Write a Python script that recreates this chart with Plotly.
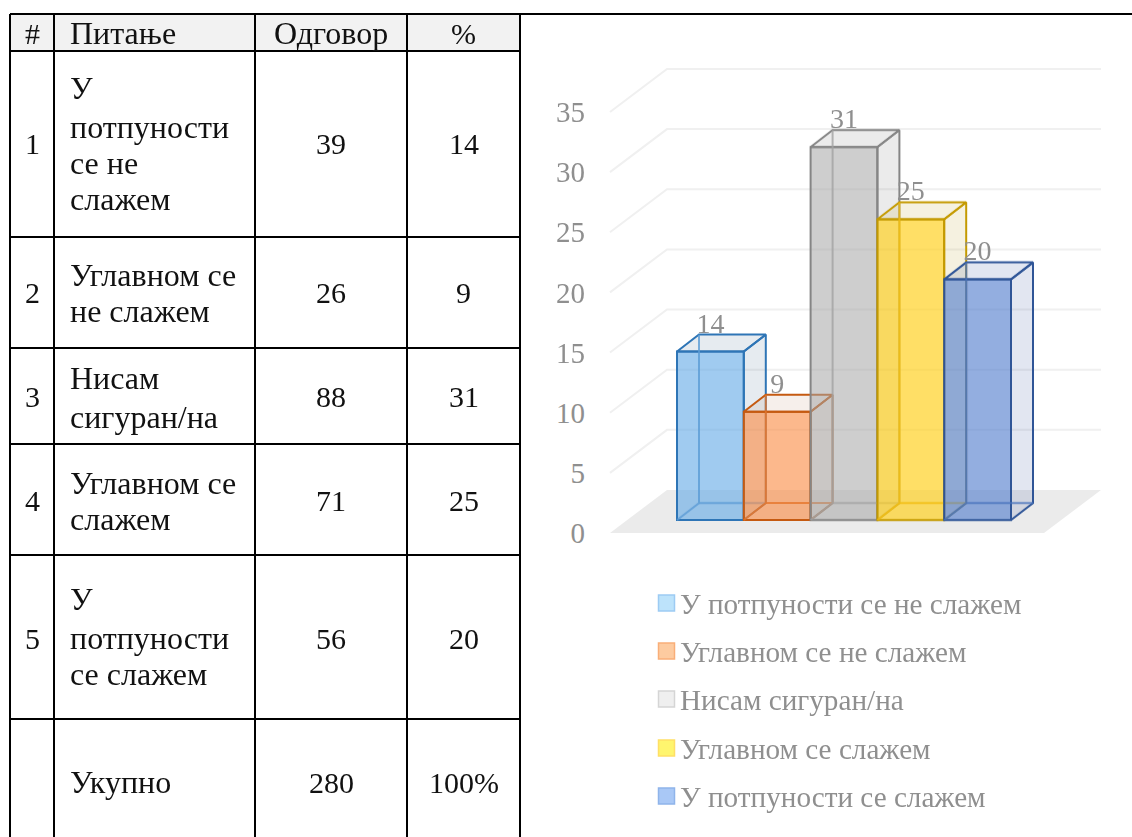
import plotly.graph_objects as go

# ---------- data ----------
series_names = ["У потпуности се не слажем", "Углавном се не слажем",
                "Нисам сигуран/на", "Углавном се слажем", "У потпуности се слажем"]
percent_values = [14, 9, 31, 25, 20]
answer_counts = [39, 26, 88, 71, 56]
row_numbers = ["1", "2", "3", "4", "5", ""]
question_lines = [["У", "потпуности", "се не", "слажем"],
                  ["Углавном се", "не слажем"],
                  ["Нисам", "сигуран/на"],
                  ["Углавном се", "слажем"],
                  ["У", "потпуности", "се слажем"],
                  ["Укупно"]]
answer_labels = [str(v) for v in answer_counts] + ["280"]
percent_labels = [str(v) for v in percent_values] + ["100%"]
header_labels = ["#", "Питање", "Одговор", "%"]
y_ticks = [0, 5, 10, 15, 20, 25, 30, 35]

# ---------- styles ----------
W, H = 1132, 837
SERIF = "Liberation Serif"
TEXT = "#111111"
CHART_TEXT = "#8f8f8f"
CYR_SIZE, NUM_SIZE, LEGEND_SIZE = 32, 30, 29.2
front_fill = ["rgba(97,168,230,0.6)", "rgba(250,140,70,0.62)", "rgba(165,165,165,0.55)",
              "rgba(255,208,30,0.68)", "rgba(80,125,205,0.62)"]
edge_color = ["#2e75b6", "#c55a11", "#858585", "#c49a00", "#2f5597"]
inner_edge = ["#5b9bd5", "#e5762b", "#a3a3a3", "#f2bd10", "#4a74bd"]
face_fill = ["rgba(60,100,140,0.13)", "rgba(170,100,60,0.10)", "rgba(110,110,110,0.14)",
             "rgba(190,160,50,0.15)", "rgba(60,90,160,0.15)"]
swatch_fill = ["#bde3fb", "#fdcba0", "#efefef", "#fff56e", "#a9c8f6"]
swatch_edge = ["#9dcbf3", "#f9ae78", "#d5d5d5", "#ffdf66", "#8fb4ea"]

# table layout, pixels
col_edges = [10, 54, 255, 407, 520]
row_edges = [14, 51, 237, 348, 444, 555, 719]
line_y = [[88, 127, 163, 199], [275, 311], [378, 417], [483, 519], [599, 638, 674], [782]]
row_mid = [143, 292, 396, 500, 638, 782]
legend_y = [603, 651, 699, 748, 796]

# chart geometry: one category = 66.8 px, one value unit = 12.03 px
PX_X, PX_Y = 66.8, 12.03
X0_PX, Y0_PX = 710.4, 533
LEFT_PX, TOP_PX = 586, 63.8
base = 13 / PX_Y                 # front of the bars above the front of the floor
bar_dx, bar_dy = 22 / PX_X, 17 / PX_Y
wall_dx, wall_dy = 57 / PX_X, 43 / PX_Y
label_drop = 5 / PX_Y
floor_left, floor_right = (610 - X0_PX) / PX_X, (1044 - X0_PX) / PX_X

px = lambda x: x / W
py = lambda y: 1 - y / H

fig = go.Figure()

# floor and gridlines
fig.add_trace(go.Scatter(
    x=[floor_left, floor_right, floor_right + wall_dx, floor_left + wall_dx, floor_left],
    y=[0, 0, wall_dy, wall_dy, 0], mode="lines", fill="toself",
    fillcolor="#ebebeb", line=dict(width=0), hoverinfo="skip"))
gx, gy = [], []
for t in y_ticks[1:]:
    gx += [floor_left, floor_left + wall_dx, floor_right + wall_dx, None]
    gy += [t, t + wall_dy, t + wall_dy, None]
fig.add_trace(go.Scatter(x=gx, y=gy, mode="lines", line=dict(color="#f0f0f0", width=2), hoverinfo="skip"))

# bars, each on its own overlaid value axis so that they paint left to right
for i, v in enumerate(percent_values):
    ya = f"y{i + 2}"
    top = base + v
    l, r = i - 0.5, i + 0.5
    fig.add_trace(go.Bar(x=[i], y=[v], base=[base], width=[1], yaxis=ya, name=series_names[i],
                         marker=dict(color=front_fill[i], line=dict(color=edge_color[i], width=2))))
    fig.add_trace(go.Scatter(x=[r, r + bar_dx, r + bar_dx, r, r],
                             y=[base, base + bar_dy, top + bar_dy, top, base], yaxis=ya,
                             mode="lines", fill="toself", fillcolor=face_fill[i],
                             line=dict(color=edge_color[i], width=2), hoverinfo="skip"))
    fig.add_trace(go.Scatter(x=[l, l + bar_dx, r + bar_dx, r, l],
                             y=[top, top + bar_dy, top + bar_dy, top, top], yaxis=ya,
                             mode="lines", fill="toself", fillcolor=face_fill[i],
                             line=dict(color=edge_color[i], width=2), hoverinfo="skip"))
    fig.add_trace(go.Scatter(x=[l, l + bar_dx, l + bar_dx, None, l + bar_dx, r + bar_dx],
                             y=[base, base + bar_dy, top + bar_dy, None, base + bar_dy, base + bar_dy],
                             yaxis=ya, mode="lines", line=dict(color=inner_edge[i], width=2),
                             opacity=0.8, hoverinfo="skip"))
    fig.add_trace(go.Scatter(x=[i], y=[top + bar_dy - label_drop], yaxis=ya, mode="text", text=[str(v)],
                             textposition="top center", cliponaxis=False,
                             textfont=dict(family=SERIF, size=28, color=CHART_TEXT), hoverinfo="skip"))

shapes, annotations = [], []


def label(x, y, text, anchor="center", size=CYR_SIZE, color=TEXT):
    annotations.append(dict(x=px(x), y=py(y), xref="paper", yref="paper", text=text, showarrow=False,
                            xanchor=anchor, yanchor="middle", borderpad=0,
                            font=dict(family=SERIF, size=size, color=color)))


shapes.append(dict(type="rect", xref="paper", yref="paper", x0=px(col_edges[0]), x1=px(col_edges[-1]),
                   y0=py(row_edges[0]), y1=py(row_edges[1]), fillcolor="#f2f2f2", line=dict(width=0), layer="below"))
for y in row_edges:
    x1 = W if y == row_edges[0] else col_edges[-1]
    shapes.append(dict(type="line", xref="paper", yref="paper", x0=px(col_edges[0]), x1=px(x1),
                       y0=py(y), y1=py(y), line=dict(color="black", width=2)))
for x in col_edges:
    shapes.append(dict(type="line", xref="paper", yref="paper", x0=px(x), x1=px(x),
                       y0=py(row_edges[0]), y1=0, line=dict(color="black", width=2)))
col_mid = [(col_edges[0] + col_edges[1]) / 2, None, (col_edges[2] + col_edges[3]) / 2, (col_edges[3] + col_edges[4]) / 2]
HEAD_Y = 33
label(col_mid[0], HEAD_Y, header_labels[0], size=NUM_SIZE)
label(69, HEAD_Y, header_labels[1], "left")
label(col_mid[2], HEAD_Y, header_labels[2])
label(col_mid[3], HEAD_Y, header_labels[3], size=NUM_SIZE)
for r in range(6):
    label(col_mid[0], row_mid[r], row_numbers[r], size=NUM_SIZE)
    for line, y in zip(question_lines[r], line_y[r]):
        label(69, y, line, "left")
    label(col_mid[2], row_mid[r], answer_labels[r], size=NUM_SIZE)
    label(col_mid[3], row_mid[r], percent_labels[r], size=NUM_SIZE)

for i, name in enumerate(series_names):
    y = legend_y[i]
    shapes.append(dict(type="rect", xref="paper", yref="paper", x0=px(658.5), x1=px(674.5),
                       y0=py(y + 8), y1=py(y - 8), fillcolor=swatch_fill[i],
                       line=dict(color=swatch_edge[i], width=1.5)))
    label(679, y + 1, name, "left", size=LEGEND_SIZE, color=CHART_TEXT)

x_range = [(LEFT_PX - X0_PX) / PX_X, (W - X0_PX) / PX_X]
y_range = [0, (Y0_PX - TOP_PX) / PX_Y]
layout = dict(
    width=W, height=H, autosize=False, margin=dict(l=0, r=0, t=0, b=0), paper_bgcolor="white",
    plot_bgcolor="rgba(0,0,0,0)", showlegend=False, barmode="overlay", shapes=shapes, annotations=annotations,
    xaxis=dict(domain=[px(LEFT_PX), 1], range=x_range, visible=False, fixedrange=True, automargin=False),
    yaxis=dict(domain=[py(Y0_PX), py(TOP_PX)], range=y_range, tickvals=y_ticks, ticks="", showgrid=False,
               zeroline=False, showline=False, tickfont=dict(family=SERIF, size=29, color=CHART_TEXT),
               fixedrange=True, automargin=False),
)
for i in range(len(percent_values)):
    layout[f"yaxis{i + 2}"] = dict(domain=[py(Y0_PX), py(TOP_PX)], range=y_range, overlaying="y", visible=False,
                                   fixedrange=True, automargin=False)
fig.update_layout(**layout)
fig.write_html("out.html", config={"displayModeBar": False},
               post_script="document.body.style.margin='0';document.body.style.overflow='hidden';")
